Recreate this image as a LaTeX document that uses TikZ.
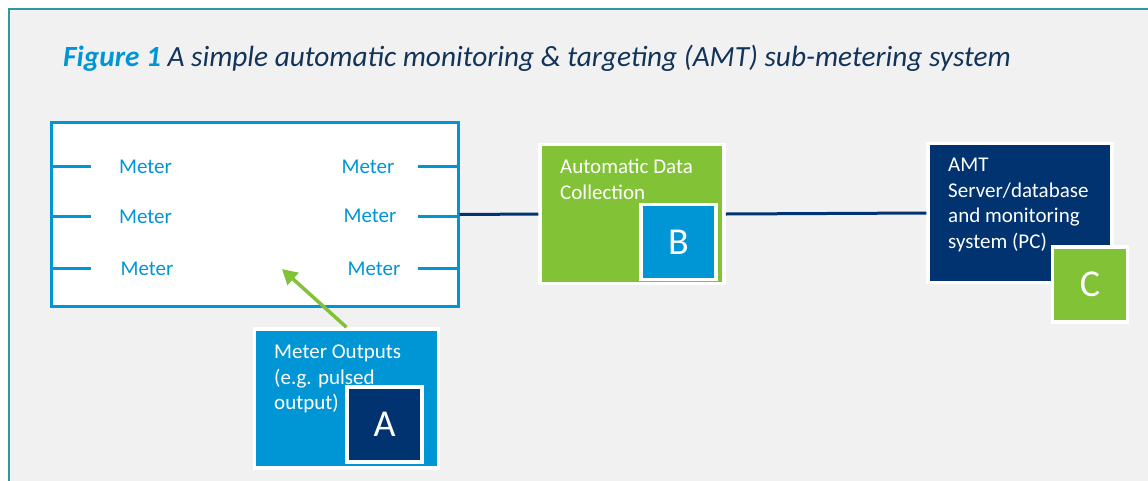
\documentclass[tikz,border=0pt]{standalone}
\usepackage{fontspec}
\setmainfont{Carlito}
\usetikzlibrary{arrows.meta}
\definecolor{bleu}{HTML}{0096D6}
\definecolor{marine}{HTML}{00336F}
\definecolor{vert}{HTML}{82C236}
\definecolor{sarcelle}{HTML}{2A9A9E}
\definecolor{fond}{HTML}{F1F1F1}
\definecolor{titre}{HTML}{123459}
\begin{document}
\begin{tikzpicture}[x=1pt, y=-1pt]
\tikzset{boite/.style={draw=white, line width=3.5pt, minimum width=184pt, minimum height=139pt, inner sep=0pt},
carre/.style={draw=white, line width=3.5pt, minimum size=75pt, inner sep=0pt, text=white, font=\fontsize{38}{38}\selectfont},
texte/.style={text=white, anchor=north west, align=left, inner sep=0pt, font=\fontsize{21}{25.5}\selectfont},
compteur/.style={text=bleu, inner sep=0pt, font=\fontsize{21}{25}\selectfont},
trait/.style={draw=bleu, line width=3pt},
liaison/.style={draw=marine, line width=3pt}}
\clip (0, 0) rectangle (1148, 480);
\draw[sarcelle, line width=2pt, fill=fond] (9, 9) rectangle (1170, 500);
\node[anchor=base west, inner sep=0pt, font=\fontsize{29.3}{29.3}\selectfont\itshape, text=titre] (T) at (63, 66)
  {{\bfseries\color{bleu}Figure 1} A simple automatic monitoring \& targeting (AMT) sub-metering system};
\node[draw=bleu, fill=white, line width=3pt, minimum width=407pt, minimum height=184pt] (mesure) at (254.5, 214.5) {};
\foreach \y in {166, 216, 268} {
  \draw[trait] (mesure.west |- 0, \y) -- (91, \y);
  \draw[trait] (mesure.east |- 0, \y) -- (418, \y);
}
\node[compteur] (M1) at (145.5, 167) {Meter};
\node[compteur] (M2) at (145.5, 217) {Meter};
\node[compteur] (M3) at (147, 269) {Meter};
\node[compteur] (M4) at (368, 167) {Meter};
\node[compteur] (M5) at (370, 216) {Meter};
\node[compteur] (M6) at (374, 269) {Meter};
\node[boite, fill=bleu] (A) at (346.5, 398.5) {};
\node[texte] at (274, 345) {Meter Outputs\\(e.g. pulsed\\output)};
\node[carre, fill=marine] (LA) at (384.5, 424.5) {A};
\node[boite, fill=vert] (B) at (632, 214) {};
\node[texte] at (560, 159) {Automatic Data\\Collection};
\node[carre, fill=bleu] (LB) at (678.5, 242) {B};
\node[boite, fill=marine] (C) at (1020, 213) {};
\node[texte] at (948, 158) {AMT\\Server/database\\and monitoring\\system (PC)};
\node[carre, fill=vert] (LC) at (1090, 284.5) {C};
\draw[liaison] (mesure.east) -- (B.west);
\draw[liaison] (B.east) -- (C.west);
\coordinate (pointe) at (282, 269);
\draw[vert, line width=3.5pt, -{Triangle[length=15pt, width=16pt]}] (A.north) -- (pointe);
\end{tikzpicture}
\end{document}
